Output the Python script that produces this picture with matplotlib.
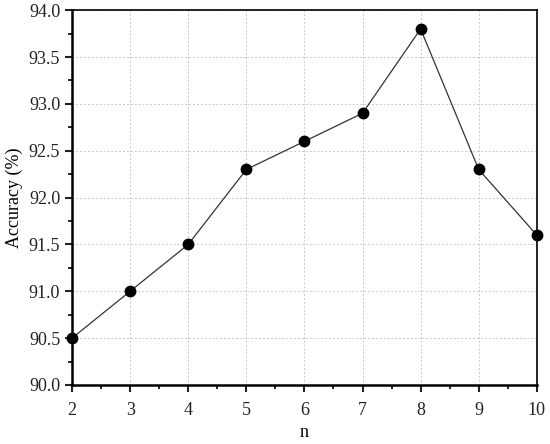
import numpy as np
import matplotlib
matplotlib.use('Agg')
import matplotlib.pyplot as plt
from matplotlib.ticker import MultipleLocator, FormatStrFormatter

plt.rcParams['font.family'] = ['Liberation Serif', 'DejaVu Serif']

# data
n_vals = [2, 3, 4, 5, 6, 7, 8, 9, 10]
acc = [90.5, 91.0, 91.5, 92.3, 92.6, 92.9, 93.8, 92.3, 91.6]

fig = plt.figure(figsize=(5.5, 4.44), dpi=100)
ax = fig.add_axes([0.131, 0.133, 0.845, 0.844])

ax.plot(n_vals, acc, '-', color='#333333', lw=0.9, zorder=3)
ax.plot(n_vals, acc, 'o', color='black', ms=7.5, zorder=4, clip_on=False)

ax.set_xlim(2, 10)
ax.set_ylim(90, 94)
ax.xaxis.set_major_locator(MultipleLocator(1))
ax.xaxis.set_minor_locator(MultipleLocator(0.5))
ax.yaxis.set_major_locator(MultipleLocator(0.5))
ax.yaxis.set_minor_locator(MultipleLocator(0.25))
ax.yaxis.set_major_formatter(FormatStrFormatter('%.1f'))

ax.grid(True, which='major', ls=(0, (2, 2)), color='#c8c8c8', lw=0.7)
ax.tick_params(which='major', direction='out', length=5, width=1.5, labelsize=13, colors='#222222')
ax.tick_params(which='minor', direction='out', length=3, width=1.2)
ax.tick_params(axis='x', pad=7)

for s in ['left', 'bottom']:
    ax.spines[s].set_linewidth(1.8)
for s in ['top', 'right']:
    ax.spines[s].set_linewidth(1.2)

ax.set_xlabel('n', fontsize=13)
ax.set_ylabel('Accuracy (%)', fontsize=13)

fig.savefig('out.png', dpi=100)
